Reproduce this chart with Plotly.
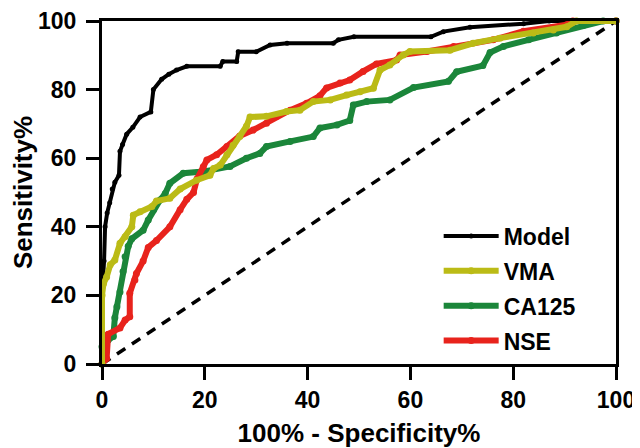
import plotly.graph_objects as go

# ROC curves, values (100% - specificity, sensitivity)
model_x = [0, 0, 0.4, 0.6, 1, 1.5, 2, 2.5, 3.3, 3.5, 4, 4.8, 6, 7.4, 9.5, 10, 11.6, 13, 14.5, 16.5,
           23, 23.5, 26.2, 26.5, 30, 32.7, 36, 45, 46, 49, 64, 66.4, 71.6, 82, 87, 100]
model_y = [0, 20, 30, 40, 44, 47, 51, 53, 55, 62, 64, 67, 69, 72, 73.5, 80, 83, 84.5, 85.7, 86.8,
           86.8, 88.2, 88.2, 91, 91, 93, 93.5, 93.5, 94.5, 95.4, 95.4, 96.9, 98.2, 99.2, 100, 100]

vma_x = [0, 0, 0.3, 0.9, 1.6, 2.5, 3.5, 4.5, 5.8, 6.1, 7.4, 9.7, 10.6, 13.2, 15.2, 18.4, 21, 21.7,
         23, 24.3, 25.5, 26.8, 28.1, 28.8, 32, 35.9, 38.5, 41.1, 44.4, 47.6, 50.2, 52.8, 54.1, 56,
         58.6, 59.9, 67.7, 72.2, 77.4, 83.9, 87.8, 90.4, 92.3, 100]
vma_y = [0, 20, 23.5, 25.4, 28.9, 30.3, 35.2, 37.1, 40, 43.4, 44.4, 45.9, 47.5, 48.3, 51, 53.6, 55, 57,
         58, 61, 63.8, 66.3, 69.3, 72, 72.2, 73.6, 74, 76.5, 77, 78.4, 79.4, 80.4, 85.7, 87.2,
         90.1, 91.1, 91.5, 93.5, 95, 96.5, 97.4, 98.3, 100, 100]

ca125_x = [0, 0, 1.2, 2.2, 2.5, 2.9, 3.5, 4.1, 4.5, 5.1, 5.8, 8, 9, 10, 11.3, 12.3, 13.2, 15.8, 19.7,
           24.9, 28.1, 30.7, 32, 36.6, 41.1, 42.4, 45.7, 48.2, 48.9, 51.5, 56, 60.6, 67.4, 69, 74.1,
           75.5, 78.1, 83, 88.4, 93.6, 97.5, 100]
ca125_y = [0, 5, 7, 8, 13.5, 16.7, 21, 27, 31.3, 34.3, 36.5, 39, 42, 44.9, 47.8, 49.7, 52.7, 55.6, 56.1,
           57.6, 60, 61.4, 63.4, 64.9, 66.3, 68.8, 69.7, 71, 75.5, 76.5, 77, 80.6, 82.4, 85.2, 87,
           90.8, 92.6, 94.5, 96.5, 98.7, 100, 100]

nse_x = [0, 0.9, 1.2, 3.5, 4.5, 5.4, 5.4, 6.4, 6.7, 8, 9, 10.6, 13.2, 15.2, 16.5, 17.8, 18.5, 19.7,
         20.4, 22.3, 24.3, 26.8, 29.4, 32, 34, 36.6, 39.8, 42.4, 43.7, 46.3, 48.2, 50.8, 53.4, 57.3,
         58, 63.2, 68.4, 76.1, 82, 90.4, 91.6, 100]
nse_y = [0, 1.6, 8.7, 10.5, 12.8, 13.8, 20.6, 24.5, 26.4, 30, 34, 36, 40, 45, 48, 50, 54, 57.5,
         59.5, 61, 63.4, 66.5, 68.2, 70.2, 72.2, 74, 76, 78.2, 80.5, 81.9, 82.8, 85.3, 87.5, 88.6,
         90.1, 91.1, 92.6, 94.5, 97, 98.9, 100, 100]

ref_x = [0, 100]
ref_y = [0, 100]

FONT = "Liberation Sans, Arial, sans-serif"

fig = go.Figure()

fig.add_trace(go.Scatter(x=ref_x, y=ref_y, mode='lines', showlegend=False,
                         line=dict(color='black', width=3.5, dash='10px,8px')))

series = [
    ('Model', model_x, model_y, '#000000', 4, 5, 1),
    ('CA125', ca125_x, ca125_y, '#1b863a', 6, 7, 3),
    ('NSE', nse_x, nse_y, '#e8231c', 6, 7, 4),
    ('VMA', vma_x, vma_y, '#bbbb16', 6, 7, 2),
]
for name, xs, ys, color, lw, ms, rank in series:
    fig.add_trace(go.Scatter(
        x=xs, y=ys, mode='lines+markers', name=name,
        line=dict(color=color, width=lw),
        marker=dict(color=color, size=ms),
        cliponaxis=False, legendrank=rank, legendgroup=name,
    ))

axis_common = dict(
    range=[0, 100], tickvals=[0, 20, 40, 60, 80, 100],
    showgrid=False, zeroline=False, automargin=False,
    showline=True, linecolor='black', linewidth=3, mirror=True,
    ticks='outside', ticklen=13, tickwidth=3, tickcolor='black',
    tickfont=dict(family=FONT, size=23, color='black', weight='bold'),
)

# the page body adds an 8px offset, so the figure is sized to fit inside it
fig.update_layout(
    width=632, height=440,
    margin=dict(l=94, r=24, t=13, b=84),
    plot_bgcolor='white', paper_bgcolor='white',
    font=dict(family=FONT, color='black'),
    xaxis=dict(axis_common, title=dict(text='<b>100% - Specificity%</b>',
                                       font=dict(family=FONT, size=26), standoff=13)),
    yaxis=dict(axis_common, ticklabelstandoff=5,
               title=dict(text='<b>Sensitivity%</b>',
                          font=dict(family=FONT, size=26), standoff=2)),
    legend=dict(x=0.655, y=0.436, xanchor='left', yanchor='top',
                font=dict(family=FONT, size=23, color='black', weight='bold'),
                bgcolor='rgba(0,0,0,0)', tracegroupgap=2, itemwidth=55),
)

fig.write_html("out.html")
